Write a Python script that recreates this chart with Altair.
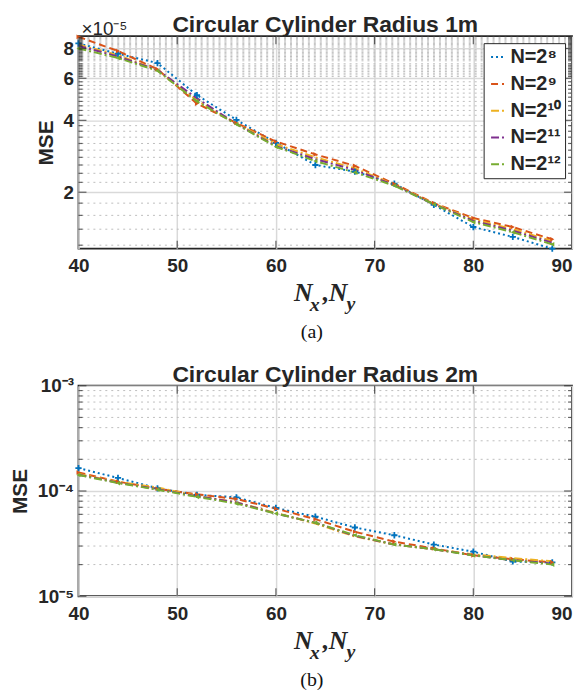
import altair as alt
import pandas as pd

# ---------------- data ----------------
X = [40, 44, 48, 52, 56, 60, 64, 68, 72, 76, 80, 84, 88]
SERIES = ["N=2⁸", "N=2⁹", "N=2¹⁰", "N=2¹¹", "N=2¹²"]
COLORS = ["#0072BD", "#D95319", "#EDB120", "#7E2F8E", "#77AC30"]
DASHES = [[2, 3], [7, 4], [8, 3, 2, 3], [8, 3, 2, 3], [8, 3, 2, 3]]
TRI_SERIES = ["N=2⁹", "N=2¹²"]
TRI_SHAPES = ["triangle-right", "triangle-left"]
TRI_COLORS = ["#D95319", "#77AC30"]
PLUS_SERIES = "N=2⁸"
XTICKS = [40, 50, 60, 70, 80, 90]
XTICKS_INNER = [50, 60, 70, 80]

# panel (a): MSE in units of 1e-5
a_n8 = [8.40, 7.60, 6.95, 5.10, 4.02, 3.22, 2.60, 2.44, 2.17, 1.77, 1.43, 1.30, 1.16]
a_n9 = [8.95, 7.80, 6.55, 4.70, 3.90, 3.26, 2.88, 2.58, 2.17, 1.80, 1.56, 1.43, 1.27]
a_n10 = [8.30, 7.50, 6.50, 4.85, 3.88, 3.18, 2.80, 2.52, 2.15, 1.79, 1.54, 1.40, 1.25]
a_n11 = [8.20, 7.40, 6.50, 4.95, 3.86, 3.12, 2.75, 2.48, 2.14, 1.78, 1.52, 1.38, 1.23]
a_n12 = [8.00, 7.30, 6.45, 4.80, 3.85, 3.10, 2.70, 2.42, 2.13, 1.78, 1.50, 1.36, 1.21]
A_MAJOR = [2, 4, 6, 8]
A_MINOR = [1.2, 1.4, 1.6, 1.8, 2.2, 2.4, 2.6, 2.8, 3.0, 3.2, 3.4, 3.6, 3.8,
           4.2, 4.4, 4.6, 4.8, 5.0, 5.2, 5.4, 5.6, 5.8,
           6.1, 6.2, 6.3, 6.4, 6.5, 6.6, 6.7, 6.8, 6.9, 7.1, 7.2, 7.3, 7.4,
           7.5, 7.6, 7.7, 7.8, 7.9, 8.1, 8.2, 8.3, 8.4, 8.5, 8.6, 8.7, 8.8, 8.9]
A_DOMAIN = [1.16, 9.0]

# panel (b): MSE in units of 1e-5
b_n8 = [16.5, 13.3, 10.6, 9.2, 8.7, 6.9, 5.7, 4.5, 3.8, 3.1, 2.65, 2.14, 2.1]
b_n9 = [15.0, 12.3, 10.5, 9.3, 8.4, 6.8, 5.4, 4.1, 3.3, 2.85, 2.45, 2.25, 2.1]
b_n10 = [14.5, 12.2, 10.8, 9.0, 7.8, 6.2, 4.9, 3.7, 3.1, 2.8, 2.5, 2.3, 2.15]
b_n11 = [14.3, 12.0, 10.4, 8.9, 7.8, 6.1, 5.0, 3.75, 3.1, 2.8, 2.45, 2.2, 2.05]
b_n12 = [14.2, 11.9, 10.3, 8.8, 7.6, 6.1, 5.0, 3.8, 3.1, 2.8, 2.44, 2.2, 2.0]
B_MAJOR = [1, 10, 100]
B_MINOR = [2, 3, 4, 5, 6, 7, 8, 9, 20, 30, 40, 50, 60, 70, 80, 90]
B_DOMAIN = [1, 100]

UNIT = 1e-5
W = 497
FONT = "Liberation Sans"
SERIF = "Liberation Serif"
INK = "#262626"


def long_df(cols):
    rows = []
    for name, vals in zip(SERIES, cols):
        for x, v in zip(X, vals):
            rows.append({"x": x, "mse": v * UNIT, "series": name, "mk": name})
    return pd.DataFrame(rows)


def scaled(vals):
    return [v * UNIT for v in vals]


def note(text, x, y, **kw):
    return alt.Chart(pd.DataFrame({"k": [0]})).mark_text(**kw).encode(
        x=alt.value(x), y=alt.value(y), text=alt.value(text))


def panel(df, H, title, ydom, major, minor, label_expr, caption, extra=None):
    xs = alt.Scale(domain=[40, 90], nice=False, zero=False)
    ys = alt.Scale(type="log", domain=scaled(ydom), nice=False)
    x_axis = alt.Axis(values=XTICKS, title=None, grid=True, gridColor="#d9d9d9",
                      gridWidth=1.5, ticks=False, domain=False, labelFont=FONT,
                      labelFontWeight="bold", labelFontSize=19, labelColor=INK,
                      labelPadding=8, labelFlush=False,
                      labelAlign=alt.expr("datum.value == 90 ? 'right' : 'center'"))
    y_axis = alt.Axis(values=scaled(major), labelExpr=label_expr, title="MSE",
                      titleFont=FONT, titleFontWeight="bold", titleFontSize=21,
                      titleColor=INK, titlePadding=7, grid=True, gridColor="#d9d9d9",
                      gridWidth=1.5, ticks=False, domain=False, labelFont=FONT,
                      labelFontWeight="bold", labelFontSize=19, labelColor=INK,
                      labelPadding=5)

    def X_(field="x"):
        return alt.X(f"{field}:Q", scale=xs, axis=x_axis)

    def Y_(field="mse"):
        return alt.Y(f"{field}:Q", scale=ys, axis=y_axis)

    minor_df = pd.DataFrame({"v": scaled(minor)})
    major_df = pd.DataFrame({"v": scaled(major)})
    xt_df = pd.DataFrame({"t": XTICKS_INNER})

    grid_minor = alt.Chart(minor_df).mark_rule(
        color="#bdbdbd", strokeWidth=1, strokeDash=[2, 4]).encode(y=Y_("v"))

    lines = alt.Chart(df).mark_line(strokeWidth=2).encode(
        x=X_(), y=Y_(),
        color=alt.Color("series:N", scale=alt.Scale(domain=SERIES, range=COLORS),
                        legend=alt.Legend(title=None)),
        strokeDash=alt.StrokeDash("series:N", scale=alt.Scale(domain=SERIES, range=DASHES),
                                  legend=alt.Legend(title=None)),
        order="x:Q",
    )
    plus = alt.Chart(df).transform_filter(
        alt.datum.series == PLUS_SERIES
    ).mark_point(shape="M-1,0H1M0,-1V1", filled=False, size=40, strokeWidth=1.8,
                 color=COLORS[0], opacity=1).encode(x=X_(), y=Y_())
    tris = alt.Chart(df).transform_filter(
        alt.FieldOneOfPredicate(field="mk", oneOf=TRI_SERIES)
    ).mark_point(filled=True, size=22, opacity=1).encode(
        x=X_(), y=Y_(),
        fill=alt.Fill("mk:N", scale=alt.Scale(domain=TRI_SERIES, range=TRI_COLORS), legend=None),
        shape=alt.Shape("mk:N", scale=alt.Scale(domain=TRI_SERIES, range=TRI_SHAPES), legend=None),
    )

    tick = dict(color=INK, thickness=1.2)
    lt_major = alt.Chart(major_df).mark_tick(orient="horizontal", size=8, **tick).encode(
        y=Y_("v"), x=alt.value(4))
    rt_major = alt.Chart(major_df).mark_tick(orient="horizontal", size=8, **tick).encode(
        y=Y_("v"), x=alt.value(W - 4))
    lt_minor = alt.Chart(minor_df).mark_tick(orient="horizontal", size=4, **tick).encode(
        y=Y_("v"), x=alt.value(2))
    rt_minor = alt.Chart(minor_df).mark_tick(orient="horizontal", size=4, **tick).encode(
        y=Y_("v"), x=alt.value(W - 2))
    bt = alt.Chart(xt_df).mark_tick(orient="vertical", size=8, **tick).encode(
        x=X_("t"), y=alt.value(H - 4))
    tt = alt.Chart(xt_df).mark_tick(orient="vertical", size=8, **tick).encode(
        x=X_("t"), y=alt.value(4))

    it = dict(font=SERIF, fontStyle="italic", fontWeight="bold", align="left",
              baseline="alphabetic", color=INK)
    texts = [
        note(title, W / 2, -4, font=FONT, fontSize=23, fontWeight="bold",
             align="center", baseline="alphabetic", color=INK),
        note("N", 217, H + 53, fontSize=26, **it),
        note("x", 233, H + 63, fontSize=20, **it),
        note(",", 246, H + 53, fontSize=26, **it),
        note("N", 252, H + 53, fontSize=26, **it),
        note("y", 270, H + 62, fontSize=20, **it),
        note(caption, 235, H + 84, font=SERIF, fontSize=20, align="center",
             baseline="middle", color="#111"),
    ]
    if extra is not None:
        texts.append(extra)

    return alt.layer(grid_minor, lines, plus, tris, lt_major, rt_major, lt_minor,
                     rt_minor, bt, tt, *texts).properties(width=W, height=H)


top = panel(long_df([a_n8, a_n9, a_n10, a_n11, a_n12]), 214,
            "Circular Cylinder Radius 1m", A_DOMAIN, A_MAJOR, A_MINOR,
            "format(datum.value * 100000, '.0f')", "(a)",
            extra=note("×10⁻⁵", 3, -7, font=FONT, fontSize=19, align="left",
                       baseline="middle", color=INK))

bottom = panel(long_df([b_n8, b_n9, b_n10, b_n11, b_n12]), 212,
               "Circular Cylinder Radius 2m", B_DOMAIN, B_MAJOR, B_MINOR,
               "datum.value > 0.0005 ? '10⁻³' : (datum.value > 0.00005 ? '10⁻⁴' : '10⁻⁵')",
               "(b)")

chart = alt.vconcat(top, bottom, spacing=20).properties(
    padding={"left": 0, "top": 3, "right": 0, "bottom": 0}
).configure_view(
    stroke=INK, strokeWidth=1.8
).configure_legend(
    orient="top-right", offset=7, strokeColor=INK, fillColor="white", padding=4,
    labelFont=FONT, labelFontWeight="bold", labelFontSize=20, labelColor=INK,
    symbolType="stroke", symbolSize=170, symbolStrokeWidth=2, rowPadding=7,
    labelOffset=3, cornerRadius=0,
)

chart.save("out.html", embed_options={"renderer": "svg", "actions": False})
